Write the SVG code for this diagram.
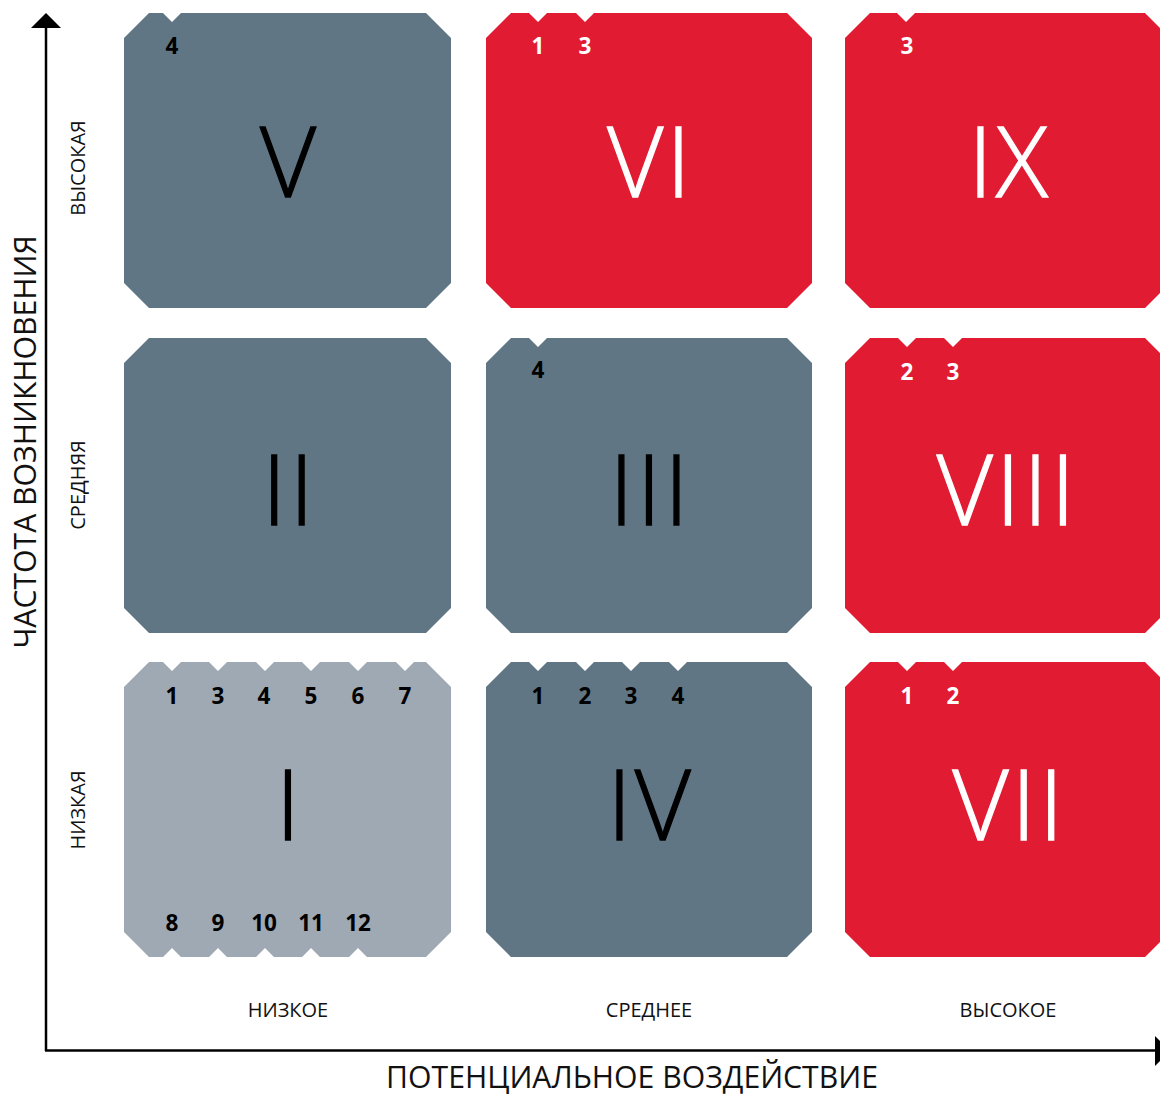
<svg xmlns="http://www.w3.org/2000/svg" width="1160" height="1096" viewBox="0 0 1160 1096">
<style>
.slate{fill:#607685}
.red{fill:#e11b32}
.light{fill:#9fa9b3}
.big{font-family:"Open Sans","Noto Sans",sans-serif;font-weight:300;font-size:97px;letter-spacing:3px;text-anchor:middle;stroke-width:1.3px}
.num{font-family:"Open Sans","Noto Sans",sans-serif;font-weight:700;font-size:22.5px;text-anchor:middle}
.lbl{font-family:"Open Sans","Noto Sans",sans-serif;font-size:20px;text-anchor:middle;fill:#111}
.ttl{font-family:"Open Sans","Noto Sans",sans-serif;font-size:30.2px;text-anchor:middle;fill:#111}
.dk{fill:#000}
.big.dk{stroke:#000}
.wh{fill:#fff}
.big.wh{stroke:#fff}
</style>
<rect width="1160" height="1096" fill="#fff"/>
<g id="box-V">
<path class="slate" d="M124,38 L149,13 L163,13 L172,22 L181,13 L426,13 L451,38 L451,283 L426,308 L149,308 L124,283 Z"/>
<text class="num dk" x="172" y="53.5">4</text>
<text class="big dk" x="289.5" y="197">V</text>
</g>
<g id="box-VI">
<path class="red" d="M486,38 L511,13 L529,13 L538,22 L547,13 L576,13 L585,22 L594,13 L787,13 L812,38 L812,283 L787,308 L511,308 L486,283 Z"/>
<text class="num wh" x="538" y="53.5">1</text>
<text class="num wh" x="585" y="53.5">3</text>
<text class="big wh" x="650.5" y="197">VI</text>
</g>
<g id="box-IX">
<path class="red" d="M845,38 L870,13 L897,13 L906,22 L915,13 L1145,13 L1170,38 L1170,283 L1145,308 L870,308 L845,283 Z"/>
<text class="num wh" x="907" y="53.5">3</text>
<text class="big wh" x="1009.5" y="197">IX</text>
</g>
<g id="box-II">
<path class="slate" d="M124,363 L149,338 L426,338 L451,363 L451,608 L426,633 L149,633 L124,608 Z"/>
<text class="big dk" x="289.5" y="525">II</text>
</g>
<g id="box-III">
<path class="slate" d="M486,363 L511,338 L529,338 L538,347 L547,338 L787,338 L812,363 L812,608 L787,633 L511,633 L486,608 Z"/>
<text class="num dk" x="538" y="377.5">4</text>
<text class="big dk" x="650.5" y="525">III</text>
</g>
<g id="box-VIII">
<path class="red" d="M845,363 L870,338 L898,338 L907,347 L916,338 L944,338 L953,347 L962,338 L1145,338 L1170,363 L1170,608 L1145,633 L870,633 L845,608 Z"/>
<text class="num wh" x="907" y="379.5">2</text>
<text class="num wh" x="953" y="379.5">3</text>
<text class="big wh" x="1007.5" y="525">VIII</text>
</g>
<g id="box-I">
<path class="light" d="M124,687 L149,662 L163,662 L172,671 L181,662 L209,662 L218,671 L227,662 L256,662 L265,671 L274,662 L302,662 L311,671 L320,662 L349,662 L358,671 L367,662 L396,662 L405,671 L414,662 L426,662 L451,687 L451,932 L426,957 L367,957 L358,948 L349,957 L320,957 L311,948 L302,957 L274,957 L265,948 L256,957 L227,957 L218,948 L209,957 L181,957 L172,948 L163,957 L149,957 L124,932 Z"/>
<text class="num dk" x="172" y="703.5">1</text>
<text class="num dk" x="218" y="703.5">3</text>
<text class="num dk" x="264" y="703.5">4</text>
<text class="num dk" x="311" y="703.5">5</text>
<text class="num dk" x="358" y="703.5">6</text>
<text class="num dk" x="405" y="703.5">7</text>
<text class="num dk" x="172" y="931">8</text>
<text class="num dk" x="218" y="931">9</text>
<text class="num dk" x="264" y="931">10</text>
<text class="num dk" x="311" y="931">11</text>
<text class="num dk" x="358" y="931">12</text>
<text class="big dk" x="289.5" y="840">I</text>
</g>
<g id="box-IV">
<path class="slate" d="M486,687 L511,662 L529,662 L538,671 L547,662 L576,662 L585,671 L594,662 L622,662 L631,671 L640,662 L669,662 L678,671 L687,662 L787,662 L812,687 L812,932 L787,957 L511,957 L486,932 Z"/>
<text class="num dk" x="538" y="703.5">1</text>
<text class="num dk" x="585" y="703.5">2</text>
<text class="num dk" x="631" y="703.5">3</text>
<text class="num dk" x="678" y="703.5">4</text>
<text class="big dk" x="650.5" y="840">IV</text>
</g>
<g id="box-VII">
<path class="red" d="M845,687 L870,662 L898,662 L907,671 L916,662 L944,662 L953,671 L962,662 L1145,662 L1170,687 L1170,932 L1145,957 L870,957 L845,932 Z"/>
<text class="num wh" x="907" y="703.5">1</text>
<text class="num wh" x="953" y="703.5">2</text>
<text class="big wh" x="1009.5" y="840">VII</text>
</g>
<g id="connectors">
<line x1="46" y1="1051" x2="46" y2="27" stroke="#000" stroke-width="2.5"/>
<polygon points="31,28 61,28 46,13" fill="#000"/>
<line x1="45" y1="1050.5" x2="1156" y2="1050.5" stroke="#000" stroke-width="2.5"/>
<polygon points="1155,1036 1155,1066 1170,1051" fill="#000"/>
</g>
<g id="labels">
<text class="ttl" transform="translate(36,442) rotate(-90)">ЧАСТОТА ВОЗНИКНОВЕНИЯ</text>
<text class="ttl" x="632" y="1088">ПОТЕНЦИАЛЬНОЕ ВОЗДЕЙСТВИЕ</text>
<text class="lbl" transform="translate(85,168) rotate(-90)">ВЫСОКАЯ</text>
<text class="lbl" transform="translate(85,485) rotate(-90)">СРЕДНЯЯ</text>
<text class="lbl" transform="translate(85,810) rotate(-90)">НИЗКАЯ</text>
<text class="lbl" x="288" y="1017">НИЗКОЕ</text>
<text class="lbl" x="649" y="1017">СРЕДНЕЕ</text>
<text class="lbl" x="1008" y="1017">ВЫСОКОЕ</text>
</g>
</svg>
